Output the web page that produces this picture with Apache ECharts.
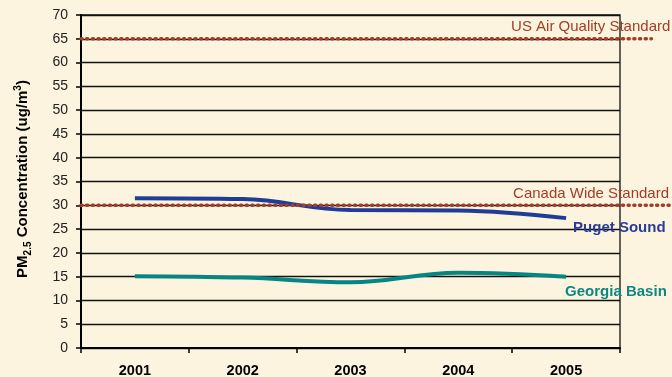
<!DOCTYPE html>
<html>
<head>
<meta charset="utf-8">
<style>
  html, body { margin: 0; padding: 0; background: #FCF4DE; }
  #chart { width: 672px; height: 377px; }
</style>
<script src="https://cdn.jsdelivr.net/npm/echarts@6/dist/echarts.min.js"></script>
</head>
<body>
<div id="chart"></div>
<script>
// Annual PM2.5 concentrations by airshed
const years = ['2001', '2002', '2003', '2004', '2005'];
const pugetSound = [31.5, 31.3, 29.0, 28.9, 27.3];
const georgiaBasin = [15.1, 14.8, 13.8, 15.8, 15.0];

// Reference standards (ug/m3)
const usStandard = 65;
const canadaStandard = 30;

const FONT = '"Liberation Sans", Arial, sans-serif';
const STD_COLOR = '#A23E28';

const chart = echarts.init(document.getElementById('chart'), null, { renderer: 'canvas' });

function standardLine(value, endX, label, labelOffset) {
  return {
    type: 'line',
    xAxisIndex: 1,
    yAxisIndex: 1,
    data: [[0, value], [endX, value]],
    showSymbol: false,
    silent: true,
    z: 5,
    lineStyle: { color: STD_COLOR, width: 3.6, type: [1, 4.7], cap: 'round' },
    endLabel: {
      show: true,
      formatter: label,
      color: STD_COLOR,
      fontFamily: FONT,
      fontSize: 15,
      align: 'right',
      verticalAlign: 'middle',
      distance: 0,
      offset: labelOffset
    }
  };
}

chart.setOption({
  backgroundColor: '#FCF4DE',
  animation: false,
  grid: [
    { left: 81, right: 52, top: 15, bottom: 29, outerBoundsMode: 'none', show: true, borderColor: '#111', borderWidth: 1.3, backgroundColor: 'transparent' },
    { left: 81, right: 0, top: 15, bottom: 29, outerBoundsMode: 'none' }
  ],
  xAxis: [
    {
      type: 'category',
      gridIndex: 0,
      data: years,
      boundaryGap: true,
      axisLine: { lineStyle: { color: '#000', width: 2 } },
      axisTick: { show: true, length: 5, lineStyle: { color: '#000', width: 1.5 } },
      axisLabel: { color: '#000', fontFamily: FONT, fontSize: 14.5, fontWeight: 'bold', margin: 15 },
      splitLine: { show: false }
    },
    { type: 'value', gridIndex: 1, min: 0, max: 1, show: false }
  ],
  yAxis: [
    {
      type: 'value',
      gridIndex: 0,
      min: 0,
      max: 70,
      interval: 5,
      axisLine: { show: true, lineStyle: { color: '#000', width: 2 } },
      axisTick: { show: true, length: 5, lineStyle: { color: '#000', width: 1.5 } },
      axisLabel: { color: '#222', fontFamily: FONT, fontSize: 14, margin: 13 },
      splitLine: { show: true, lineStyle: { color: '#111', width: 1.4 } },
      name: '{a|PM}{s|2.5}{a| Concentration (ug/m}{p|3}{a|)}',
      nameLocation: 'middle',
      nameRotate: 90,
      nameGap: 48,
      nameTextStyle: {
        padding: [0, 0, 0, 5],
        rich: {
          a: { fontFamily: FONT, fontSize: 15, fontWeight: 'bold', color: '#000', lineHeight: 20 },
          s: { fontFamily: FONT, fontSize: 10, fontWeight: 'bold', color: '#000', verticalAlign: 'bottom', lineHeight: 11 },
          p: { fontFamily: FONT, fontSize: 10, fontWeight: 'bold', color: '#000', verticalAlign: 'top', lineHeight: 11 }
        }
      }
    },
    { type: 'value', gridIndex: 1, min: 0, max: 70, show: false }
  ],
  series: [
    standardLine(usStandard, 0.965, 'US Air Quality Standard', [19, -11.5]),
    standardLine(canadaStandard, 1, 'Canada Wide Standard', [-3, -11]),
    {
      name: 'Puget Sound',
      type: 'line',
      data: pugetSound,
      smooth: 0.4,
      showSymbol: false,
      z: 4,
      lineStyle: { color: '#1F3D98', width: 4 },
      endLabel: {
        show: true,
        formatter: 'Puget Sound',
        color: '#2B3C9A',
        fontFamily: FONT,
        fontSize: 15,
        fontWeight: 'bold',
        align: 'left',
        verticalAlign: 'middle',
        distance: 0,
        offset: [7, 10]
      }
    },
    {
      name: 'Georgia Basin',
      type: 'line',
      data: georgiaBasin,
      smooth: 0.4,
      showSymbol: false,
      z: 4,
      lineStyle: { color: '#078583', width: 4 },
      endLabel: {
        show: true,
        formatter: 'Georgia Basin',
        color: '#0E8784',
        fontFamily: FONT,
        fontSize: 15,
        fontWeight: 'bold',
        align: 'left',
        verticalAlign: 'middle',
        distance: 0,
        offset: [-1, 15]
      }
    }
  ]
});
</script>
</body>
</html>
